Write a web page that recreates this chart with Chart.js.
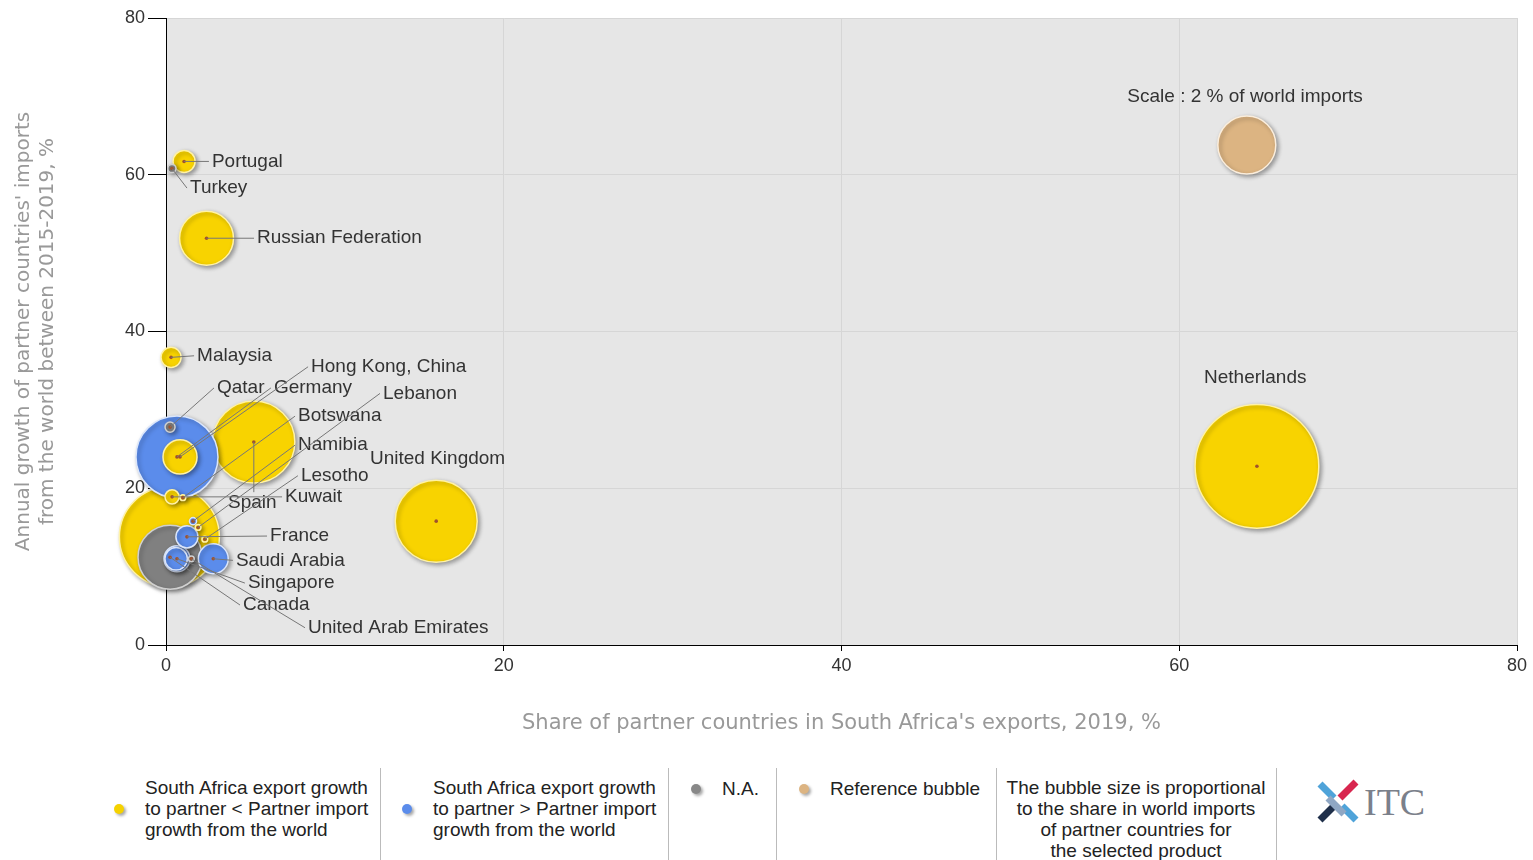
<!DOCTYPE html>
<html>
<head>
<meta charset="utf-8">
<script src="https://cdn.jsdelivr.net/npm/chart.js@4.4.1/dist/chart.umd.min.js"></script>
<style>
  body { margin: 0; background: #fff; font-family: "Liberation Sans", Arial, sans-serif; }
  #wrap { position: relative; width: 1533px; height: 860px; overflow: hidden; }
  #chartBox { position: absolute; left: 0; top: 0; width: 1533px; height: 750px; }
  .sep { position: absolute; top: 768px; width: 1px; height: 92px; background: #bbb; }
  .leg { position: absolute; font-size: 19px; line-height: 21px; color: #222; }
  .dot { position: absolute; width: 10px; height: 10px; border-radius: 50%; box-shadow: 2px 2px 3px rgba(0,0,0,0.35); }
</style>
</head>
<body>
<div id="wrap">
  <div id="chartBox"><canvas id="bubbleChart"></canvas></div>

  <div class="dot" style="left:114px;top:804px;background:#f5d200;"></div>
  <div class="leg" style="left:145px;top:777px;">South Africa export growth<br>to partner &lt; Partner import<br>growth from the world</div>
  <div class="sep" style="left:380px;"></div>
  <div class="dot" style="left:402px;top:804px;background:#5b8ceb;"></div>
  <div class="leg" style="left:433px;top:777px;">South Africa export growth<br>to partner &gt; Partner import<br>growth from the world</div>
  <div class="sep" style="left:668px;"></div>
  <div class="dot" style="left:691px;top:784px;background:#888;"></div>
  <div class="leg" style="left:722px;top:778px;">N.A.</div>
  <div class="sep" style="left:776px;"></div>
  <div class="dot" style="left:799px;top:784px;background:#dcb482;"></div>
  <div class="leg" style="left:830px;top:778px;">Reference bubble</div>
  <div class="sep" style="left:996px;"></div>
  <div class="leg" style="left:996px;top:777px;width:280px;text-align:center;">The bubble size is proportional<br>to the share in world imports<br>of partner countries for<br>the selected product</div>
  <div class="sep" style="left:1276px;"></div>
  <svg style="position:absolute;left:1314px;top:778px;" width="48" height="48" viewBox="0 0 48 48">
    <g stroke-width="7" stroke-linecap="butt">
      <line x1="6" y1="6" x2="20" y2="20" stroke="#4fa3d9"/>
      <line x1="28" y1="28" x2="42" y2="42" stroke="#4fa3d9"/>
      <line x1="42" y1="4" x2="26" y2="20" stroke="#d8264f"/>
      <line x1="22" y1="26" x2="6" y2="42" stroke="#1f2f4a"/>
      <line x1="14" y1="20" x2="30" y2="36" stroke="#8fa7c4"/>
    </g>
  </svg>
  <div style="position:absolute;left:1364px;top:780px;font-family:'Liberation Serif',serif;font-size:38px;color:#7b808a;">ITC</div>
</div>

<script>
// Partners of South Africa
const countries = ["Netherlands", "United Kingdom", "Spain", "Germany", "Russian Federation", "Hong Kong, China",
  "Saudi Arabia", "Singapore", "France", "Portugal", "Malaysia", "Kuwait", "Qatar", "Turkey",
  "Botswana", "Namibia", "Lebanon", "Lesotho", "Canada", "United Arab Emirates", "", ""];
// share of partner in South Africa's exports, 2019, %
const exportShare = [64.6, 16.0, 5.2, 0.65, 2.4, 0.83, 2.8, 0.65, 1.24, 1.07, 0.3, 0.36, 0.24, 0.35,
  1.0, 1.6, 1.9, 2.3, 0.24, 1.5, 0.2, 0.6];
// annual growth of partner imports from the world 2015-2019, %
const importGrowth = [22.8, 15.8, 25.9, 24.0, 51.9, 24.0, 11.0, 11.0, 13.8, 61.7, 36.7, 18.9, 27.8, 60.8,
  18.8, 15.8, 15.0, 13.5, 11.2, 11.0, 13.8, 11.0];
// share in world imports, %
const worldShare = [9.1, 4.0, 4.0, 4.0, 1.73, 0.69, 0.53, 0.40, 0.29, 0.29, 0.24, 0.12, 0.06, 0.04,
  0.02, 0.03, 0.02, 0.02, 2.44, 0.02, 5.95, 0.3];
// Y = export growth < import growth, B = >, N = n.a.
const group = ["Y", "Y", "Y", "B", "Y", "Y", "B", "B", "B", "Y", "Y", "Y", "N", "N",
  "Y", "B", "Y", "Y", "N", "N", "Y", "B"];

const refBubble = { label: "Scale : 2 % of world imports", x: 64.0, y: 63.8, share: 2 };

const xTicks = [0, 20, 40, 60, 80];
const yTicks = [0, 20, 40, 60, 80];

const colors = { Y: "#f8d300", B: "#5b8ceb", N: "#808080", R: "#dcb482" };
const borders = { Y: "#fff2a6", B: "#dbe6fb", N: "#d0d0d0", R: "#fbeedd" };
const REF_R = 29;
const radius = s => REF_R * Math.sqrt(s / refBubble.share);

// label placement (data units): text left/middle, optional line end
const labelPos = {
  "Portugal": [2.72, 61.7], "Turkey": [1.42, 58.3], "Russian Federation": [5.39, 51.9],
  "Malaysia": [1.84, 36.9], "Qatar": [3.02, 32.8], "Germany": [6.39, 32.8],
  "Hong Kong, China": [8.59, 35.5], "Lebanon": [12.85, 32.1], "Botswana": [7.82, 29.2],
  "Namibia": [7.82, 25.5], "United Kingdom": [12.08, 23.7, "none"], "Lesotho": [7.99, 21.6],
  "Spain": [3.67, 18.1, [5.2, 19.5]], "Kuwait": [7.05, 18.9], "France": [6.16, 13.9],
  "Saudi Arabia": [4.14, 10.8], "Singapore": [4.85, 7.9], "Canada": [4.56, 5.1],
  "United Arab Emirates": [8.41, 2.2], "Netherlands": [64.5, 34.1, "center"]
};

// draw big ones first
const order = countries.map((c, i) => i).sort((a, b) => worldShare[b] - worldShare[a]);
const points = order.map(i => ({ x: exportShare[i], y: importGrowth[i], r: radius(worldShare[i]), name: countries[i] }));
points.unshift({ x: refBubble.x, y: refBubble.y, r: radius(refBubble.share), name: "__ref" });
const bg = [colors.R].concat(order.map(i => colors[group[i]]));
const bd = [borders.R].concat(order.map(i => borders[group[i]]));

const plotBg = {
  id: "plotBg",
  beforeDraw(chart) {
    const { ctx, chartArea: a } = chart;
    ctx.save();
    ctx.fillStyle = "#e6e6e6";
    ctx.fillRect(a.left, a.top, a.right - a.left, a.bottom - a.top);
    ctx.restore();
  },
  beforeDatasetsDraw(chart) {
    const ctx = chart.ctx;
    ctx.save();
    ctx.shadowColor = "rgba(0,0,0,0.35)";
    ctx.shadowBlur = 4;
    ctx.shadowOffsetX = 2;
    ctx.shadowOffsetY = 2;
  },
  afterDatasetsDraw(chart) {
    chart.ctx.restore();
  }
};

const labels = {
  id: "labels",
  afterDatasetsDraw(chart) {
    const { ctx, scales: { x, y } } = chart;
    const meta = chart.getDatasetMeta(0);
    ctx.save();
    ctx.font = "19px 'Liberation Sans', Arial, sans-serif";
    ctx.fillStyle = "#333";
    ctx.textBaseline = "middle";
    meta.data.forEach((el, k) => {
      const p = points[k];
      if (p.name && p.name !== "__ref") {
        ctx.fillStyle = "#a0522d";
        ctx.beginPath();
        ctx.arc(el.x, el.y, 1.8, 0, Math.PI * 2);
        ctx.fill();
      }
      if (p.name === "__ref") {
        ctx.fillStyle = "#333";
        ctx.textAlign = "center";
        ctx.fillText(refBubble.label, x.getPixelForValue(63.9), y.getPixelForValue(69.9));
        return;
      }
      const lp = labelPos[p.name];
      if (!lp) return;
      const tx = x.getPixelForValue(lp[0]);
      const ty = y.getPixelForValue(lp[1]);
      if (lp[2] !== "none" && lp[2] !== "center") {
        let ex = tx - 3, ey = ty;
        if (Array.isArray(lp[2])) { ex = x.getPixelForValue(lp[2][0]); ey = y.getPixelForValue(lp[2][1]); }
        ctx.strokeStyle = "#777";
        ctx.lineWidth = 1;
        ctx.beginPath();
        ctx.moveTo(el.x, el.y);
        ctx.lineTo(ex, ey);
        ctx.stroke();
      }
      ctx.fillStyle = "#333";
      ctx.textAlign = lp[2] === "center" ? "center" : "left";
      ctx.fillText(p.name, tx, ty);
    });
    ctx.restore();
  }
};

document.addEventListener("DOMContentLoaded", () => {
  const cv = document.getElementById("bubbleChart");
  new Chart(cv.getContext("2d"), {
    type: "bubble",
    data: {
      datasets: [{
        data: points,
        backgroundColor: bg,
        borderColor: bd,
        borderWidth: 1.5,
        clip: false,
      }],
    },
    options: {
      responsive: true,
      maintainAspectRatio: false,
      animation: false,
      events: [],
      layout: { autoPadding: false, padding: { top: 18, right: 16, left: 0, bottom: 0 } },
      plugins: { legend: { display: false }, tooltip: { enabled: false } },
      scales: {
        x: {
          type: "linear",
          min: 0, max: 80,
          afterBuildTicks: s => { s.ticks = xTicks.map(v => ({ value: v })); },
          afterFit: s => { s.height = 105; },
          grid: { color: "#d6d6d6", tickColor: "#000", tickLength: 6, drawTicks: true },
          border: { color: "#000", width: 1 },
          ticks: { color: "#333", font: { size: 18, family: "'Liberation Sans', Arial" }, padding: 4 },
          title: {
            display: true,
            text: "Share of partner countries in South Africa's exports, 2019, %",
            color: "#999",
            font: { size: 21, family: "'DejaVu Sans', sans-serif" },
            padding: { top: 0, bottom: 14 },
          },
        },
        y: {
          type: "linear",
          min: 0, max: 80,
          afterBuildTicks: s => { s.ticks = yTicks.map(v => ({ value: v })); },
          afterFit: s => { s.width = 166; },
          grid: { color: "#d6d6d6", tickColor: "#000", tickLength: 18 },
          border: { color: "#000", width: 1 },
          ticks: { color: "#333", font: { size: 18, family: "'Liberation Sans', Arial" }, padding: 3 },
          title: {
            display: true,
            text: ["Annual growth of partner countries' imports", "from the world between 2015-2019, %"],
            color: "#999",
            font: { size: 20, family: "'DejaVu Sans', sans-serif" },
            padding: { top: 12, bottom: 0 },
          },
        },
      },
    },
    plugins: [plotBg, labels],
  });
});
</script>
</body>
</html>
